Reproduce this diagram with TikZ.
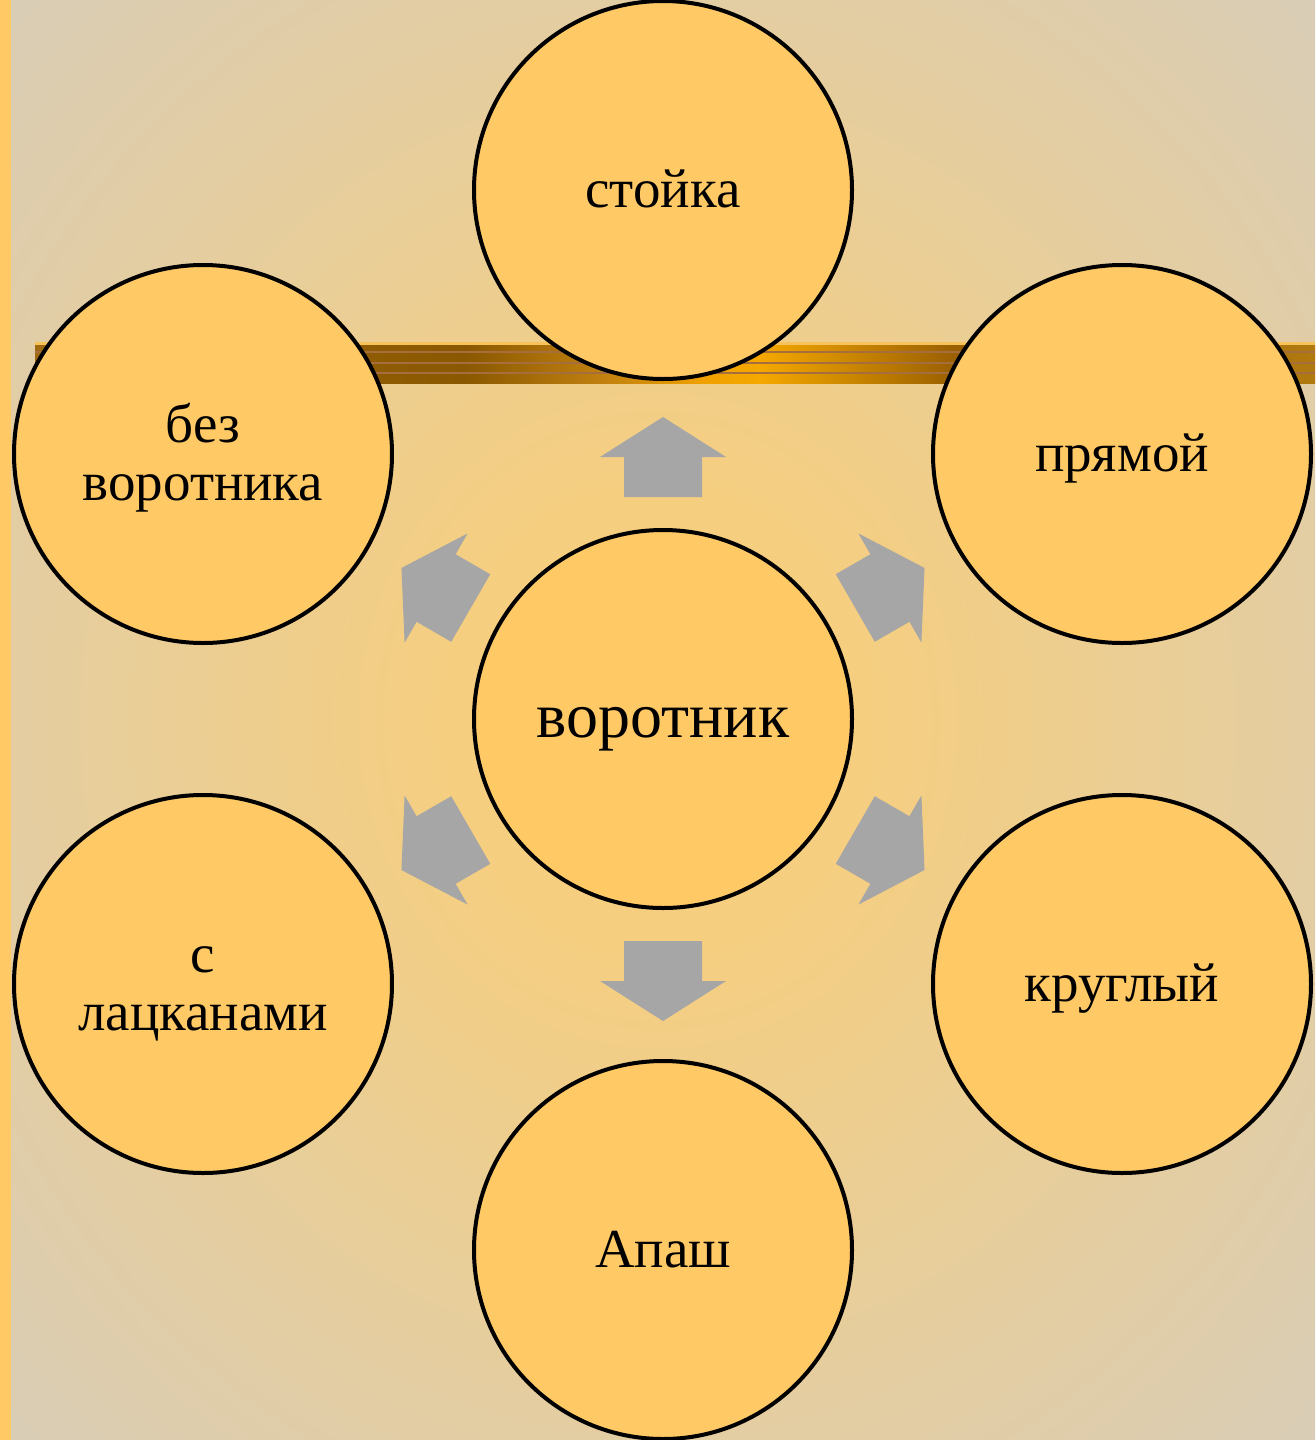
\documentclass[tikz,border=0pt]{standalone}
\usepackage{fontspec}
\setmainfont{Liberation Serif}
\usetikzlibrary{calc}
\definecolor{bubfill}{HTML}{FFC966}
\definecolor{bgin}{HTML}{F5CE80}
\definecolor{bgout}{HTML}{D8CDB8}
\definecolor{arrgray}{HTML}{A6A6A6}
\definecolor{stripc}{HTML}{FFC966}
\definecolor{barA}{HTML}{A06A10}
\definecolor{barB}{HTML}{8A5800}
\definecolor{barC}{HTML}{C08010}
\definecolor{barD}{HTML}{F0A000}
\definecolor{barE}{HTML}{F5A800}
\definecolor{barF}{HTML}{9A6000}
\definecolor{barG}{HTML}{B07A10}
\definecolor{barline}{HTML}{A56E3C}
\definecolor{bartop}{HTML}{F8C25A}
\pgfdeclareradialshading{bgshade}{\pgfpoint{0bp}{0bp}}{color(0bp)=(bgin); color(8bp)=(bgin); color(36bp)=(bgout); color(50bp)=(bgout)}
\pgfdeclarehorizontalshading{barshade}{100bp}{color(0bp)=(barA); color(25bp)=(barA); color(41.8bp)=(barB); color(47.1bp)=(barC); color(51bp)=(barD); color(53.3bp)=(barE); color(60.9bp)=(barF); color(75bp)=(barG); color(100bp)=(barG)}
\newcommand{\hiS}{\rule{0pt}{48pt}}
\newcommand{\loS}{\rule[-14pt]{0pt}{14pt}}
\newcommand{\hubS}{\rule{0pt}{50pt}}
\tikzset{
  bub/.style={circle, draw=black, line width=4pt, fill=bubfill, minimum size=378pt, inner sep=0pt, align=center, font=\fontsize{55}{58}\selectfont},
  hub/.style={bub, font=\fontsize{64}{70}\selectfont},
  blockarrow/.style={fill=arrgray, draw=none}
}
\newcommand{\blockarr}[1]{%
  \begin{scope}[shift={(hub.center)}, rotate=#1]
    \fill[blockarrow] (222,-39) -- (262,-39) -- (262,-63) -- (302,0) -- (262,63) -- (262,39) -- (222,39) -- cycle;
  \end{scope}}
\begin{document}
\begin{tikzpicture}[x=1pt, y=-1pt]
\useasboundingbox (0,0) rectangle (1315,1440);
% background
\shade[shading=bgshade] (0,0) rectangle (1315,1440);
\fill[stripc] (0,0) rectangle (11,1440);
% bar
\fill[bartop] (35,342) rectangle (1315,345);
\shade[shading=barshade] (35,345) rectangle (1315,383);
\foreach \yy in {352,363,373} \draw[barline, line width=2.5pt] (35,\yy) -- (1315,\yy);
% nodes
\node[hub] (hub) at (663,719) {\hubS\loS воротник};
\node[bub] (stoika) at (663,190) {\hiS\loS стойка};
\node[bub] (pryamoi) at (1122,454) {\hiS\loS прямой};
\node[bub] (kruglyi) at (1122,984) {\hiS\loS круглый};
\node[bub] (apash) at (663,1250) {\hiS\loS Апаш};
\node[bub] (lackan) at (203,984) {\hiS с\\лацканами\loS};
\node[bub] (bez) at (203,454) {\hiS без\\воротника\loS};
% block arrows from hub towards outer nodes
\blockarr{90}
\blockarr{30}
\blockarr{-30}
\blockarr{-90}
\blockarr{-150}
\blockarr{150}
\end{tikzpicture}
\end{document}
